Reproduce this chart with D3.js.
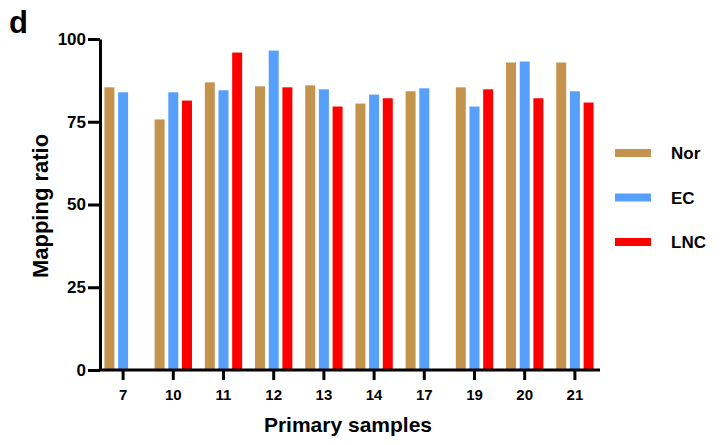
<!DOCTYPE html>
<html lang="en">
<head>
    <meta charset="UTF-8">
    <title>Mapping ratio</title>
    <script src="https://cdnjs.cloudflare.com/ajax/libs/d3/7.8.5/d3.min.js"></script>
    <style>
        body { margin: 0; background: #fff; }
        text { font-family: "Liberation Sans", Arial, sans-serif; font-weight: bold; fill: #000; }
    </style>
</head>
<body>
<svg id="chart" width="723" height="445"></svg>
<script>
    // data
    const samples = ['7', '10', '11', '12', '13', '14', '17', '19', '20', '21'];
    const groups = ['Nor', 'EC', 'LNC'];
    const nor = [85.4, 75.7, 86.9, 85.7, 86.0, 80.5, 84.2, 85.4, 92.9, 92.9];
    const ec  = [83.9, 83.9, 84.5, 96.5, 84.8, 83.2, 85.1, 79.6, 93.2, 84.2];
    const lnc = [null, 81.4, 95.9, 85.4, 79.6, 82.1, null, 84.8, 82.1, 80.8];
    const yTicks = [0, 25, 50, 75, 100];
    const colors = ['#C4944F', '#56A0FB', '#FF0000'];

    const series = [nor, ec, lnc];

    const svg = d3.select('#chart');

    const x = d3.scaleBand()
      .domain(samples)
      .range([98, 600]);

    const xSub = d3.scaleBand()
      .domain(groups)
      .range([0, x.bandwidth()])
      .paddingInner(0.27)
      .paddingOuter(0.47);

    const y = d3.scaleLinear()
      .domain([0, 100])
      .range([370, 39]);

    const color = d3.scaleOrdinal().domain(groups).range(colors);

    // bars
    const rows = [];
    samples.forEach((s, i) => {
      groups.forEach((g, j) => {
        if (series[j][i] != null) rows.push({ sample: s, group: g, value: series[j][i] });
      });
    });

    svg.append('g')
      .selectAll('rect')
      .data(rows)
      .enter()
      .append('rect')
      .attr('x', d => x(d.sample) + xSub(d.group))
      .attr('y', d => y(d.value))
      .attr('width', xSub.bandwidth())
      .attr('height', d => y(0) - y(d.value))
      .attr('fill', d => color(d.group));

    // y axis
    const yAxis = svg.append('g')
      .attr('transform', 'translate(100,0)')
      .call(d3.axisLeft(y).tickValues(yTicks).tickSize(12).tickPadding(2).tickSizeOuter(0));
    yAxis.select('.domain').attr('stroke-width', 3);
    yAxis.selectAll('.tick line').attr('stroke-width', 3);
    yAxis.selectAll('.tick text').style('font-size', '17px');

    // x axis
    const xAxis = svg.append('g')
      .attr('transform', 'translate(0,370)')
      .call(d3.axisBottom(x).tickSize(10).tickPadding(9).tickSizeOuter(0));
    xAxis.select('.domain').attr('d', 'M98.5,0H600').attr('stroke-width', 3);
    xAxis.selectAll('.tick line').attr('stroke-width', 3);
    xAxis.selectAll('.tick text').style('font-size', '15px');

    // titles
    svg.append('text')
      .attr('x', 348)
      .attr('y', 432)
      .attr('text-anchor', 'middle')
      .style('font-size', '21px')
      .text('Primary samples');

    svg.append('text')
      .attr('transform', 'translate(48,206) rotate(-90)')
      .attr('text-anchor', 'middle')
      .style('font-size', '22px')
      .text('Mapping ratio');

    svg.append('text')
      .attr('x', 9)
      .attr('y', 33)
      .style('font-size', '31px')
      .text('d');

    // legend
    const legend = svg.append('g')
      .selectAll('g')
      .data(groups)
      .enter()
      .append('g')
      .attr('transform', (d, i) => `translate(615,${153 + i * 44.5})`);

    legend.append('rect')
      .attr('x', 0)
      .attr('y', -4)
      .attr('width', 36)
      .attr('height', 8)
      .attr('fill', d => color(d));

    legend.append('text')
      .attr('x', 56)
      .attr('y', 6)
      .style('font-size', '17px')
      .text(d => d);
</script>
</body>
</html>
